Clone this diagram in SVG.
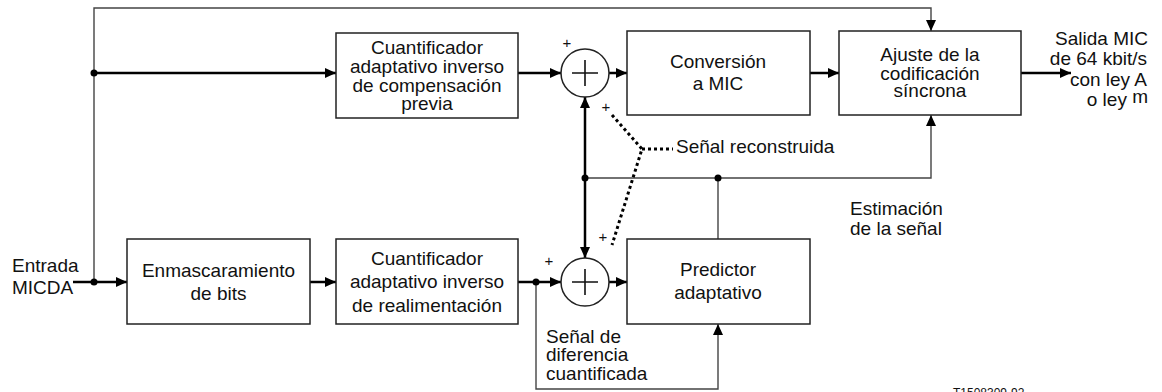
<svg xmlns="http://www.w3.org/2000/svg" width="1162" height="392" viewBox="0 0 1162 392">
  <style>
    text { font-family: "Liberation Sans", Arial, sans-serif; font-size: 19px; fill: #111; }
    .c { text-anchor: middle; }
    .e { text-anchor: end; }
    .sign { font-size: 15px; text-anchor: middle; }
    .small { font-size: 12px; }
    .box { fill: #fff; stroke: #222; stroke-width: 1.5; }
    .sum { fill: #fff; stroke: #222; stroke-width: 1.5; }
    .cross { stroke: #111; stroke-width: 1.6; fill: none; }
    .thick { stroke: #000; stroke-width: 2.5; fill: none; }
    .thin { stroke: #444; stroke-width: 1.4; fill: none; }
    .dotted { stroke: #000; stroke-width: 3; stroke-dasharray: 3 3; fill: none; }
    .dot { fill: #000; }
  </style>
  <defs>
    <marker id="arrow" markerUnits="userSpaceOnUse" markerWidth="12" markerHeight="12" viewBox="0 0 12 12" refX="11" refY="6" orient="auto">
      <path d="M0,1 L11,6 L0,11 Z" fill="#000"/>
    </marker>
  </defs>

  <!-- connectors -->
  <g id="connectors">
    <!-- bypass from input to synchronous coding adjustment -->
    <path class="thin" d="M94,282 V8 H931 V31" marker-end="url(#arrow)"/>
    <path class="thick" d="M94,73 H336" marker-end="url(#arrow)"/>
    <path class="thick" d="M73,282 H127" marker-end="url(#arrow)"/>
    <path class="thick" d="M310,282 H336" marker-end="url(#arrow)"/>
    <!-- upper chain -->
    <path class="thick" d="M518,73 H561" marker-end="url(#arrow)"/>
    <path class="thick" d="M609,73 H627" marker-end="url(#arrow)"/>
    <path class="thick" d="M810,73 H839" marker-end="url(#arrow)"/>
    <path class="thick" d="M1021,73 H1071" marker-end="url(#arrow)"/>
    <!-- lower chain -->
    <path class="thick" d="M518,282 H561" marker-end="url(#arrow)"/>
    <path class="thick" d="M609,282 H627" marker-end="url(#arrow)"/>
    <!-- signal estimate to both adders -->
    <path class="thick" d="M585,178 V97" marker-end="url(#arrow)"/>
    <path class="thick" d="M585,178 V258" marker-end="url(#arrow)"/>
    <path class="thin" d="M585,178 H931 V115" marker-end="url(#arrow)"/>
    <path class="thin" d="M718,178 V239"/>
    <!-- quantized difference signal to predictor -->
    <path class="thin" d="M536,282 V389 H718 V324" marker-end="url(#arrow)"/>
    <!-- reconstructed signal pointer -->
    <path class="dotted" d="M612,115 L642,149 L612,245"/>
    <path class="dotted" d="M642,149 H673"/>
    <!-- junction dots -->
    <circle class="dot" cx="94" cy="73" r="3.5"/>
    <circle class="dot" cx="94" cy="282" r="3.5"/>
    <circle class="dot" cx="536" cy="282" r="3.5"/>
    <circle class="dot" cx="585" cy="178" r="3.5"/>
    <circle class="dot" cx="718" cy="178" r="3.5"/>
  </g>

  <g id="input-label">
    <text x="12" y="272">Entrada</text>
    <text x="12" y="294">MICDA</text>
  </g>

  <g id="bit-masking">
    <rect class="box" x="127" y="239" width="183" height="85"/>
    <text class="c" x="218.5" y="277">Enmascaramiento</text>
    <text class="c" x="218.5" y="300">de bits</text>
  </g>

  <g id="feedback-quantizer">
    <rect class="box" x="336" y="239" width="182" height="85"/>
    <text class="c" x="427" y="265">Cuantificador</text>
    <text class="c" x="427" y="288">adaptativo inverso</text>
    <text class="c" x="427" y="312">de realimentación</text>
  </g>

  <g id="feedforward-quantizer">
    <rect class="box" x="336" y="33" width="182" height="85"/>
    <text class="c" x="427" y="54">Cuantificador</text>
    <text class="c" x="427" y="73">adaptativo inverso</text>
    <text class="c" x="427" y="92">de compensación</text>
    <text class="c" x="427" y="110">previa</text>
  </g>

  <g id="adder-top">
    <circle class="sum" cx="585" cy="73" r="24"/>
    <path class="cross" d="M572,73 H598 M585,60 V86"/>
    <text class="sign" x="567" y="48">+</text>
    <text class="sign" x="606" y="112">+</text>
  </g>

  <g id="adder-bottom">
    <circle class="sum" cx="585" cy="282" r="24"/>
    <path class="cross" d="M572,282 H598 M585,269 V295"/>
    <text class="sign" x="549" y="266">+</text>
    <text class="sign" x="603" y="242">+</text>
  </g>

  <g id="pcm-conversion">
    <rect class="box" x="627" y="31" width="183" height="84"/>
    <text class="c" x="718" y="68">Conversión</text>
    <text class="c" x="718" y="90">a MIC</text>
  </g>

  <g id="sync-coding">
    <rect class="box" x="839" y="31" width="182" height="84"/>
    <text class="c" x="930" y="61">Ajuste de la</text>
    <text class="c" x="930" y="80">codificación</text>
    <text class="c" x="930" y="97">síncrona</text>
  </g>

  <g id="predictor">
    <rect class="box" x="627" y="239" width="183" height="85"/>
    <text class="c" x="718" y="276">Predictor</text>
    <text class="c" x="718" y="299">adaptativo</text>
  </g>

  <g id="labels">
    <text x="676" y="153">Señal reconstruida</text>
    <text x="850" y="215">Estimación</text>
    <text x="850" y="235">de la señal</text>
    <text x="546" y="343">Señal de</text>
    <text x="546" y="361">diferencia</text>
    <text x="546" y="380">cuantificada</text>
    <text class="e" x="1148" y="45">Salida MIC</text>
    <text class="e" x="1147" y="65">de 64 kbit/s</text>
    <text class="e" x="1147" y="86">con ley A</text>
    <text class="e" x="1148" y="106">o ley <tspan dy="-3">m</tspan></text>
    <text class="small" x="953" y="397">T1508309-92</text>
  </g>
</svg>
